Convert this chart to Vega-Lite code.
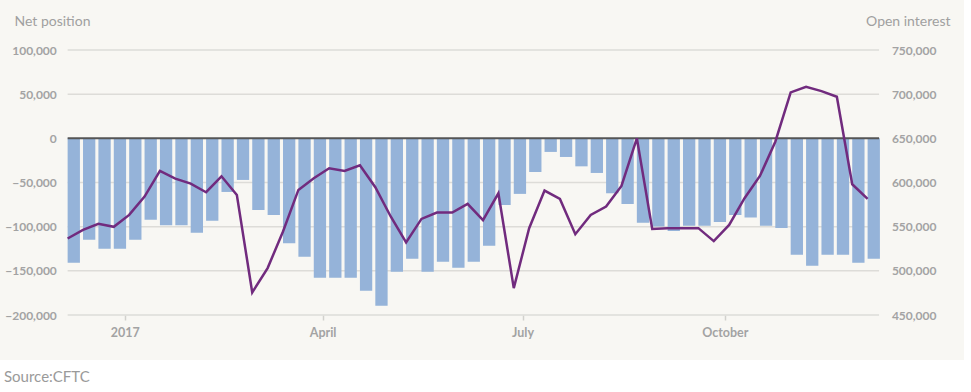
{
  "$schema": "https://vega.github.io/schema/vega-lite/v6.json",
  "width": 964,
  "height": 360,
  "autosize": {"type": "none"},
  "padding": {"left": 0, "top": 0, "right": 7, "bottom": 32},
  "background": "#ffffff",
  "config": {"view": {"fill": "#f8f7f3", "stroke": null}, "font": "Lato"},
  "title": {"text": "Source:CFTC", "orient": "bottom", "anchor": "start", "frame": "group", "offset": 10, "dx": 4, "fontSize": 15, "fontWeight": "normal", "color": "#9a9a9a", "font": "Lato"},
  "datasets": {
    "weekly": [
      {"date": "2016-12-06", "net": -140900, "oi": 536600},
      {"date": "2016-12-13", "net": -114900, "oi": 546400},
      {"date": "2016-12-20", "net": -125100, "oi": 553200},
      {"date": "2016-12-27", "net": -125100, "oi": 549800},
      {"date": "2017-01-03", "net": -114900, "oi": 563300},
      {"date": "2017-01-10", "net": -92300, "oi": 584100},
      {"date": "2017-01-17", "net": -98300, "oi": 613100},
      {"date": "2017-01-24", "net": -98300, "oi": 604400},
      {"date": "2017-01-31", "net": -107000, "oi": 598800},
      {"date": "2017-02-07", "net": -93400, "oi": 589000},
      {"date": "2017-02-14", "net": -60700, "oi": 607000},
      {"date": "2017-02-21", "net": -47100, "oi": 585900},
      {"date": "2017-02-28", "net": -81000, "oi": 475500},
      {"date": "2017-03-07", "net": -86700, "oi": 503100},
      {"date": "2017-03-14", "net": -118700, "oi": 544500},
      {"date": "2017-03-21", "net": -134100, "oi": 591600},
      {"date": "2017-03-28", "net": -157900, "oi": 604800},
      {"date": "2017-04-04", "net": -157900, "oi": 616100},
      {"date": "2017-04-11", "net": -157900, "oi": 613100},
      {"date": "2017-04-18", "net": -172600, "oi": 619500},
      {"date": "2017-04-25", "net": -189500, "oi": 594600},
      {"date": "2017-05-02", "net": -151100, "oi": 561500},
      {"date": "2017-05-09", "net": -136400, "oi": 532100},
      {"date": "2017-05-16", "net": -151100, "oi": 558800},
      {"date": "2017-05-23", "net": -139800, "oi": 566000},
      {"date": "2017-05-30", "net": -146600, "oi": 566000},
      {"date": "2017-06-06", "net": -139800, "oi": 575800},
      {"date": "2017-06-13", "net": -121700, "oi": 557300},
      {"date": "2017-06-20", "net": -75400, "oi": 587800},
      {"date": "2017-06-27", "net": -62900, "oi": 480400},
      {"date": "2017-07-04", "net": -38100, "oi": 548300},
      {"date": "2017-07-11", "net": -15400, "oi": 590800},
      {"date": "2017-07-18", "net": -21100, "oi": 581400},
      {"date": "2017-07-25", "net": -31700, "oi": 541500},
      {"date": "2017-08-01", "net": -39200, "oi": 563300},
      {"date": "2017-08-08", "net": -62200, "oi": 572800},
      {"date": "2017-08-15", "net": -74200, "oi": 596100},
      {"date": "2017-08-22", "net": -95700, "oi": 650000},
      {"date": "2017-08-29", "net": -99900, "oi": 547500},
      {"date": "2017-09-05", "net": -104800, "oi": 548300},
      {"date": "2017-09-12", "net": -99100, "oi": 548300},
      {"date": "2017-09-19", "net": -99100, "oi": 548300},
      {"date": "2017-09-26", "net": -94600, "oi": 533600},
      {"date": "2017-10-03", "net": -86700, "oi": 552000},
      {"date": "2017-10-10", "net": -89700, "oi": 582200},
      {"date": "2017-10-17", "net": -99100, "oi": 607400},
      {"date": "2017-10-24", "net": -101400, "oi": 646200},
      {"date": "2017-10-31", "net": -131900, "oi": 702000},
      {"date": "2017-11-07", "net": -144300, "oi": 708400},
      {"date": "2017-11-14", "net": -131900, "oi": 703500},
      {"date": "2017-11-21", "net": -131900, "oi": 697100},
      {"date": "2017-11-28", "net": -140900, "oi": 598000},
      {"date": "2017-12-05", "net": -136400, "oi": 581400}
    ],
    "grid": [
      {"g": -200000}, {"g": -150000}, {"g": -100000}, {"g": -50000}, {"g": 50000}, {"g": 100000}
    ],
    "zero": [{"z": 0}]
  },
  "layer": [
    {
      "data": {"name": "grid"},
      "mark": {"type": "rule", "color": "#dddcd8", "strokeWidth": 1.5},
      "encoding": {
        "y": {"field": "g", "type": "quantitative", "scale": {"domain": [-250943, 156604], "nice": false, "zero": false}, "axis": null},
        "x": {"datum": {"year": 2016, "month": 12, "date": 6, "utc": true}, "type": "temporal", "scale": {"type": "utc", "domain": [{"year": 2016, "month": 11, "date": 7, "hours": 12, "utc": true}, {"year": 2018, "month": 1, "date": 15, "hours": 14, "utc": true}]}},
        "x2": {"datum": {"year": 2017, "month": 12, "date": 10, "hours": 5, "utc": true}}
      }
    },
    {
      "data": {"name": "weekly"},
      "mark": {"type": "bar", "color": "#95b3d9", "width": 12.3, "xOffset": 6.15},
      "encoding": {
        "x": {"field": "date", "type": "temporal",
          "scale": {"type": "utc", "domain": [{"year": 2016, "month": 11, "date": 7, "hours": 12, "utc": true}, {"year": 2018, "month": 1, "date": 15, "hours": 14, "utc": true}]},
          "axis": {
            "orient": "bottom", "offset": -45, "title": null,
            "values": [{"year": 2017, "month": 1, "date": 1, "utc": true}, {"year": 2017, "month": 4, "date": 1, "utc": true}, {"year": 2017, "month": 7, "date": 1, "utc": true}, {"year": 2017, "month": 10, "date": 1, "utc": true}],
            "labelExpr": "utcFormat(datum.value, '%m') == '01' ? utcFormat(datum.value, '%Y') : utcFormat(datum.value, '%B')",
            "domain": false, "grid": false, "ticks": true, "tickSize": 5, "tickColor": "#d2d1cd", "tickWidth": 1.5,
            "labelFont": "Lato", "labelFontSize": 12.5, "labelFontWeight": "bold", "labelColor": "#a3a3a3", "labelPadding": 6.5
          }
        },
        "y": {"field": "net", "type": "quantitative",
          "scale": {"domain": [-250943, 156604], "nice": false, "zero": false},
          "axis": {
            "orient": "left", "offset": -63.3,
            "values": [-200000, -150000, -100000, -50000, 0, 50000, 100000],
            "labelExpr": "format(datum.value, ',')", "ticks": false, "domain": false, "grid": false,
            "labelPadding": 7, "labelFont": "Lato", "labelFontSize": 12, "labelFontWeight": "bold", "labelColor": "#a3a3a3",
            "title": "Net position", "titleAngle": 0, "titleAlign": "left", "titleBaseline": "alphabetic",
            "titleX": -49.3, "titleY": 25.5, "titleFont": "Lato", "titleFontSize": 14, "titleFontWeight": "normal", "titleColor": "#a0a0a0"
          }
        },
        "y2": {"datum": 0}
      }
    },
    {
      "data": {"name": "zero"},
      "mark": {"type": "rule", "color": "#555555", "strokeWidth": 2},
      "encoding": {
        "y": {"field": "z", "type": "quantitative", "scale": {"domain": [-250943, 156604], "nice": false, "zero": false}, "axis": null},
        "x": {"datum": {"year": 2016, "month": 12, "date": 6, "utc": true}, "type": "temporal", "scale": {"type": "utc", "domain": [{"year": 2016, "month": 11, "date": 7, "hours": 12, "utc": true}, {"year": 2018, "month": 1, "date": 15, "hours": 14, "utc": true}]}},
        "x2": {"datum": {"year": 2017, "month": 12, "date": 10, "hours": 5, "utc": true}}
      }
    },
    {
      "data": {"name": "weekly"},
      "mark": {"type": "line", "color": "#712b7e", "strokeWidth": 2.5},
      "encoding": {
        "x": {"field": "date", "type": "temporal", "scale": {"type": "utc", "domain": [{"year": 2016, "month": 11, "date": 7, "hours": 12, "utc": true}, {"year": 2018, "month": 1, "date": 15, "hours": 14, "utc": true}]}},
        "y": {"field": "oi", "type": "quantitative",
          "scale": {"domain": [399057, 806604], "nice": false, "zero": false},
          "axis": {
            "orient": "right", "offset": -81,
            "values": [450000, 500000, 550000, 600000, 650000, 700000, 750000],
            "labelExpr": "format(datum.value, ',')", "ticks": false, "domain": false, "grid": false,
            "labelPadding": 8.4, "labelFont": "Lato", "labelFontSize": 12, "labelFontWeight": "bold", "labelColor": "#a3a3a3",
            "title": "Open interest", "titleAngle": 0, "titleAlign": "right", "titleBaseline": "alphabetic",
            "titleX": 67, "titleY": 25.5, "titleFont": "Lato", "titleFontSize": 14, "titleFontWeight": "normal", "titleColor": "#a0a0a0"
          }
        }
      }
    }
  ],
  "resolve": {"scale": {"y": "independent"}}
}
